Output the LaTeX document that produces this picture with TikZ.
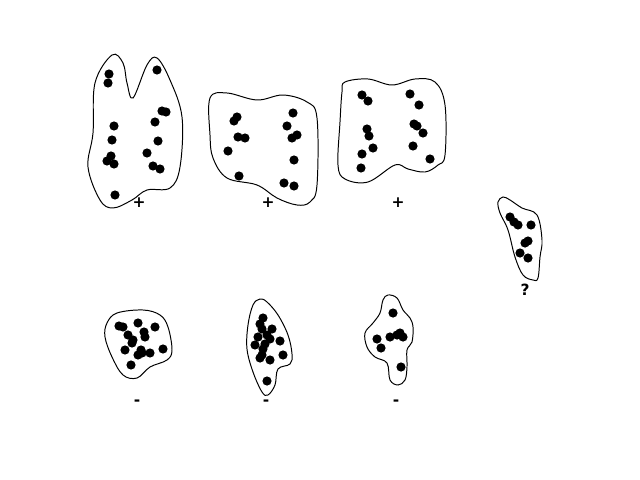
\documentclass[tikz,border=0pt]{standalone}
\usepackage{fontspec}
\setsansfont{DejaVu Sans}
\usepackage{tikz}

\begin{document}
\begin{tikzpicture}[
            x=0.025cm, y=-0.025cm,
            blob/.style={draw, line width=0.7pt, smooth cycle, tension=0.6},
            dot/.style={circle, fill, inner sep=0pt, minimum size=0.23cm},
            tag/.style={font=\sffamily\bfseries\fontsize{11}{13}\selectfont, inner sep=0pt}
        ]
            \useasboundingbox (0,0) rectangle (640,480);

            % Outlines
            \draw[blob] plot coordinates {(112,55) (123,63) (127,83) (133,98) (147,65) (157,58) (170,80)
                (182,117) (180,167) (170,188) (147,190) (132,200) (113,208) (100,200) (88,167) (93,133) (95,83)};
            \draw[blob] plot coordinates {(210,98) (227,93) (257,100) (283,95) (307,102) (317,118) (317,185)
                (310,202) (297,205) (277,198) (257,185) (227,178) (213,158) (210,135)};
            \draw[blob] plot coordinates {(345,82) (368,79) (392,85) (415,79) (435,82) (445,105) (445,155)
                (438,165) (425,172) (408,169) (395,165) (368,182) (345,179) (338,165) (340,122) (342,92)};
            \draw[blob] plot coordinates {(503,197) (510,200) (522,208) (537,215) (542,240) (540,257) (538,278)
                (533,280) (523,275) (515,257) (508,230) (500,213) (498,202)};
            \draw[blob] plot coordinates {(107,323) (117,313) (143,310) (160,315) (168,327) (172,350) (167,360)
                (150,367) (137,378) (123,375) (112,357) (105,337)};
            \draw[blob] plot coordinates {(260,299) (267,302) (278,315) (288,335) (292,354) (290,364) (278,369)
                (275,385) (268,395) (262,392) (253,372) (247,349) (248,325) (253,305)};
            \draw[blob] plot coordinates {(388,295) (397,298) (403,310) (410,318) (413,327) (412,342) (407,350)
                (407,367) (405,380) (398,385) (390,380) (387,363) (375,357) (367,347) (365,333) (373,323)
                (380,313) (383,300)};

            % Points
            \foreach \x/\y [count=\i] in {109/74, 108/83, 157/70, 162/111, 166/112, 155/122, 114/126, 112/140,
                158/141, 147/153, 111/156, 107/161, 114/164, 153/166, 160/169, 115/195}
                \node[dot] (a\i) at (\x,\y) {};
            \foreach \x/\y [count=\i] in {237/117, 234/121, 238/137, 245/138, 228/151, 239/176, 293/113,
                287/126, 297/135, 292/138, 294/160, 284/183, 294/186}
                \node[dot] (b\i) at (\x,\y) {};
            \foreach \x/\y [count=\i] in {362/95, 368/101, 410/94, 419/105, 414/124, 417/126, 423/133, 367/129,
                369/136, 373/148, 413/146, 362/154, 361/168, 430/159}
                \node[dot] (c\i) at (\x,\y) {};
            \foreach \x/\y [count=\i] in {510/217, 514/222, 518/225, 531/225, 528/241, 525/243, 520/253, 528/258}
                \node[dot] (d\i) at (\x,\y) {};
            \foreach \x/\y [count=\i] in {119/326, 123/327, 138/323, 155/327, 144/332, 128/335, 133/340, 145/337,
                132/343, 125/350, 141/350, 138/355, 150/353, 163/349, 131/365, 142/353}
                \node[dot] (e\i) at (\x,\y) {};
            \foreach \x/\y [count=\i] in {263/318, 260/324, 272/329, 262/329, 258/337, 267/335, 270/339, 280/341,
                265/344, 255/345, 263/349, 283/355, 260/358, 270/360, 267/381, 262/355}
                \node[dot] (f\i) at (\x,\y) {};
            \foreach \x/\y [count=\i] in {393/313, 377/339, 390/337, 397/335, 400/333, 403/337, 381/348, 401/367}
                \node[dot] (g\i) at (\x,\y) {};

            % Labels
            \node[tag] (l1) at (139,203) {+};
            \node[tag] (l2) at (268,203) {+};
            \node[tag] (l3) at (398,203) {+};
            \node[tag] (l4) at (525,290) {?};
            \node[tag] (l5) at (137,403) {-};
            \node[tag] (l6) at (266,403) {-};
            \node[tag] (l7) at (396,403) {-};
        \end{tikzpicture}
\end{document}
